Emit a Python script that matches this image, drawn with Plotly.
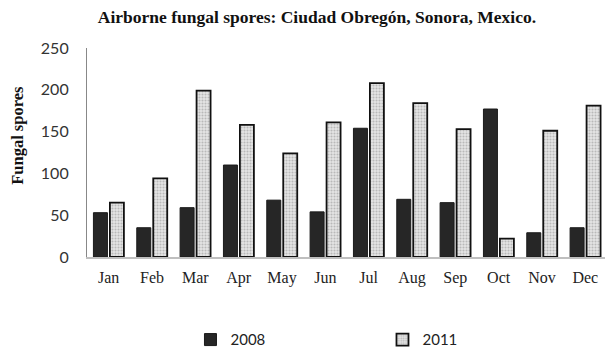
import plotly.graph_objects as go

months = ["Jan", "Feb", "Mar", "Apr", "May", "Jun", "Jul", "Aug", "Sep", "Oct", "Nov", "Dec"]
spores_2008 = [53, 35, 59, 110, 68, 54, 154, 69, 65, 177, 29, 35]
spores_2011 = [65, 94, 199, 158, 124, 161, 208, 184, 153, 22, 151, 181]
y_ticks = [0, 50, 100, 150, 200, 250]

fig = go.Figure()
fig.add_trace(go.Bar(
    x=months, y=spores_2008, name="2008",
    marker=dict(color="#262626", line=dict(color="#1a1a1a", width=1)),
))
fig.add_trace(go.Bar(
    x=months, y=spores_2011, name="2011",
    marker=dict(color="#d9d9d9", line=dict(color="#111111", width=1.8),
                pattern=dict(shape=".", bgcolor="#e6e6e6", fgcolor="#8c8c8c", size=3, solidity=0.4)),
))

fig.update_layout(
    width=613, height=353,
    margin=dict(l=79, r=14, t=40, b=104),
    paper_bgcolor="white", plot_bgcolor="white",
    barmode="group", bargap=0.24, bargroupgap=0.15,
    title=dict(text="<b>Airborne fungal spores: Ciudad Obregón, Sonora, Mexico.</b>",
               xref="container", x=0.504, xanchor="center",
               yref="container", y=0.975, yanchor="middle",
               font=dict(family="Liberation Serif", size=17.5, color="#111111")),
    showlegend=True,
    legend=dict(orientation="h", x=0.199, xanchor="left",
                yref="container", y=0.06, yanchor="middle",
                font=dict(family="Lato", size=15, color="#222222"),
                entrywidth=147, entrywidthmode="pixels", itemwidth=30,
                traceorder="normal"),
    xaxis=dict(showline=True, linecolor="#bfbfbf", linewidth=1.5, showgrid=False,
               ticks="", ticklabelstandoff=5, automargin=False,
               tickfont=dict(family="Liberation Serif", size=16, color="#222222")),
    yaxis=dict(range=[0, 250], tickvals=y_ticks, showline=True, linecolor="#888888",
               linewidth=1.2, showgrid=False, zeroline=False, ticks="",
               ticklabelstandoff=14, automargin=False,
               tickfont=dict(family="Lato", size=16, color="#333333")),
    annotations=[dict(text="<b>Fungal spores</b>", textangle=-90,
                      xref="paper", x=(18 - 87) / 520, xanchor="center",
                      yref="paper", y=0.58, yanchor="middle", showarrow=False,
                      font=dict(family="Liberation Serif", size=16.5, color="#111111"))],
)

fig.write_html("out.html")
